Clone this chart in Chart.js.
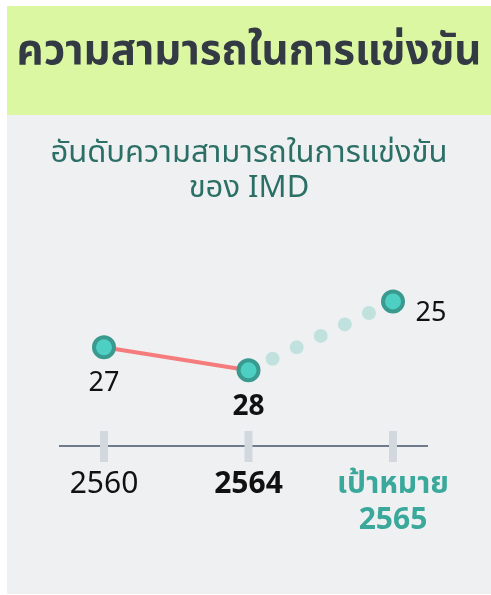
<!DOCTYPE html>
<html>
<head>
<meta charset="utf-8">
<script src="https://cdn.jsdelivr.net/npm/chart.js@4/dist/chart.umd.min.js"></script>
<style>
  html, body { margin: 0; padding: 0; background: #fff; }
  body { width: 491px; height: 595px; position: relative; overflow: hidden; }
  #head { position: absolute; left: 7px; top: 6px; width: 484px; height: 109px; background: #dcf7a1; }
  #panel { position: absolute; left: 7px; top: 115px; width: 484px; height: 479px; background: #eff0f2; }
  #wrap { position: absolute; left: 0; top: 0; width: 491px; height: 595px; }
</style>
</head>
<body>
<div id="head"></div>
<div id="panel"></div>
<div id="wrap"><canvas id="chart"></canvas></div>
<script>
// data
const years = ["2560", "2564", ["เป้าหมาย", "2565"]];
const actualRank = [27, 28, null];
const targetRank = [null, 28, 25];
const titleText = "ความสามารถในการแข่งขัน";
const subtitleText = ["อันดับความสามารถในการแข่งขัน", "ของ IMD"];

const FONT = "'Noto Sans', 'Noto Sans Thai', sans-serif";
const TEAL = "#3aa89b";

// ticks + axis line drawn by hand so they cross the axis
const axisPlugin = {
  id: "axisMarks",
  beforeDatasetsDraw(chart) {
    const { ctx, chartArea, scales } = chart;
    const y = chartArea.bottom;
    ctx.save();
    ctx.strokeStyle = "#6f7b8b";
    ctx.lineWidth = 2;
    ctx.beginPath();
    ctx.moveTo(chartArea.left - 45, y);
    ctx.lineTo(chartArea.right + 35, y);
    ctx.stroke();
    ctx.fillStyle = "#d3d8de";
    scales.x.ticks.forEach((t, i) => {
      const x = scales.x.getPixelForTick(i);
      ctx.fillRect(x - 4, y - 15, 8, 31);
    });
    ctx.restore();
  }
};

// value labels next to the points
const valueLabels = {
  id: "valueLabels",
  afterDatasetsDraw(chart) {
    const { ctx } = chart;
    const spots = [
      { ds: 0, i: 0, dx: 0, dy: 36, bold: false },
      { ds: 0, i: 1, dx: 0, dy: 37, bold: true },
      { ds: 1, i: 2, dx: 38, dy: 12, bold: false }
    ];
    ctx.save();
    ctx.fillStyle = "#111";
    ctx.textAlign = "center";
    ctx.textBaseline = "middle";
    spots.forEach(s => {
      const pt = chart.getDatasetMeta(s.ds).data[s.i];
      const v = chart.data.datasets[s.ds].data[s.i];
      ctx.font = (s.bold ? "bold 28px " : "27px ") + FONT;
      ctx.fillText(String(v), pt.x + s.dx, pt.y + s.dy);
    });
    ctx.restore();
  }
};

const hiddenSide = w => ({
  display: true,
  grid: { display: false, drawTicks: false },
  border: { display: false },
  ticks: { display: false },
  afterFit: s => { s.width = w; }
});

const ctx = document.getElementById("chart").getContext("2d");
new Chart(ctx, {
  type: "line",
  data: {
    labels: years,
    datasets: [
      {
        label: "อันดับ",
        data: actualRank,
        borderColor: "#f47c7c",
        borderWidth: 4,
        pointRadius: 10,
        pointBorderWidth: 4,
        pointBackgroundColor: "#4dcfc3",
        pointBorderColor: "#3a9a8f",
        order: 0
      },
      {
        label: "เป้าหมาย",
        data: targetRank,
        borderColor: "#c1e1df",
        borderWidth: 14,
        borderCapStyle: "round",
        segment: {
          borderDash: c => [0, Math.hypot(c.p1.x - c.p0.x, c.p1.y - c.p0.y) / 6]
        },
        pointRadius: [0, 0, 10],
        pointBorderWidth: 4,
        pointBackgroundColor: "#4dcfc3",
        pointBorderColor: "#3a9a8f",
        order: 1
      }
    ]
  },
  options: {
    responsive: true,
    maintainAspectRatio: false,
    animation: false,
    layout: { padding: { left: 7, right: 0, top: 0, bottom: 0 } },
    plugins: {
      legend: { display: false },
      tooltip: { enabled: false },
      title: {
        display: true,
        text: titleText,
        color: "#333a44",
        font: { family: FONT, size: 42, weight: "bold", lineHeight: 1.2 },
        padding: { top: 27, bottom: 58 }
      },
      subtitle: {
        display: true,
        text: subtitleText,
        color: "#2b6f66",
        font: { family: FONT, size: 31, lineHeight: 1.13 },
        padding: { top: 0, bottom: 18 }
      }
    },
    scales: {
      x: {
        type: "category",
        offset: false,
        grid: { display: false, drawTicks: false },
        border: { display: false },
        afterFit: s => { s.height = 149; },
        ticks: {
          padding: 20,
          autoSkip: false,
          maxRotation: 0,
          color: c => (c.index === 2 ? TEAL : "#111"),
          font: c => ({ family: FONT, size: 30, weight: c.index > 0 ? "bold" : "normal", lineHeight: 1.2 })
        }
      },
      y: {
        ...hiddenSide(97),
        position: "left",
        reverse: true,
        min: 21.6,
        max: 31.3
      },
      yRight: {
        ...hiddenSide(98),
        type: "linear",
        position: "right"
      }
    }
  },
  plugins: [axisPlugin, valueLabels]
});
</script>
</body>
</html>
